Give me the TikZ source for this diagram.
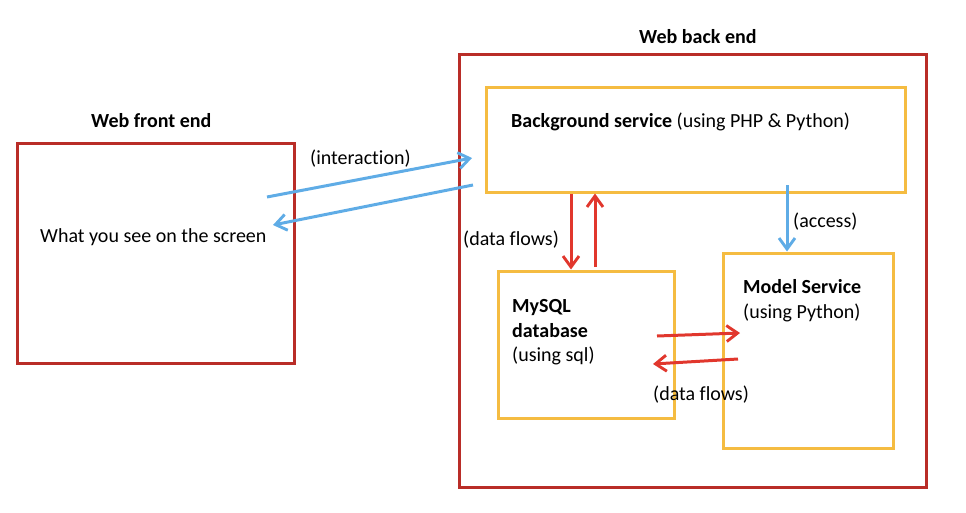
\documentclass[tikz,border=0pt]{standalone}
\usepackage{fontspec}
\setmainfont{Carlito}[Ligatures={NoCommon,NoRare}]
\usetikzlibrary{arrows.meta,calc}
\definecolor{boxred}{RGB}{185,45,40}
\definecolor{boxyel}{RGB}{245,188,65}
\definecolor{arrblue}{RGB}{95,172,230}
\definecolor{arrred}{RGB}{225,55,45}
\begin{document}
\begin{tikzpicture}[x=1pt,y=-1pt,
  every node/.style={font=\fontsize{20}{24}\selectfont, inner sep=0pt},
  outerbox/.style={draw=boxred, line width=3.0pt, rectangle},
  innerbox/.style={draw=boxyel, line width=3.0pt, rectangle},
  lbl/.style={anchor=base west, text=black},
  blab/.style={anchor=base west, text=black, font=\fontsize{20}{24}\selectfont\bfseries},
  tip/.style={-{Straight Barb[length=11pt,width=16pt,line width=2.9pt]}},
  blueline/.style={draw=arrblue, line width=3.0pt, tip},
  redline/.style={draw=arrred, line width=3.0pt, tip}]
\useasboundingbox (0,0) rectangle (966,512);
% boxes
\node[outerbox, minimum width=277pt, minimum height=220pt] (front) at (155.5,253) {};
\node[outerbox, minimum width=467pt, minimum height=433pt] (back) at (692.5,270.5) {};
\node[innerbox, minimum width=419pt, minimum height=105pt] (bg) at (695.5,139.5) {};
\node[innerbox, minimum width=176pt, minimum height=147pt] (my) at (586,344.5) {};
\node[innerbox, minimum width=170pt, minimum height=195pt] (model) at (808,350.5) {};
% texts
\node[blab] (tfront) at (91,127) {Web front end};
\node[lbl] (tscreen) at (40,242) {What you see on the screen};
\node[lbl] (tinter) at (310,164) {(interaction)};
\node[blab] (tback) at (639,43) {Web back end};
\node[lbl] (tbg) at (511,127) {\textbf{Background service} (using PHP \& Python)};
\node[lbl] (tacc) at (793,227) {(access)};
\node[lbl] (tdf1) at (463,245) {(data flows)};
\node[blab] (tmy1) at (512,312) {MySQL};
\node[blab] (tmy2) at (512,337) {database};
\node[lbl] (tmy3) at (512,361) {(using sql)};
\node[blab] (tmo1) at (743,293) {Model Service};
\node[lbl] (tmo2) at (743,318) {(using Python)};
\node[lbl] (tdf2) at (653,400) {(data flows)};
% connector end points
\coordinate (i1) at (267,197);
\coordinate (i2) at (472,158);
\coordinate (r1) at (473,185);
\coordinate (r2) at (273,225);
\coordinate (m1) at (657,336);
\coordinate (m2) at (740,333);
\coordinate (m3) at (738,359);
\coordinate (m4) at (653,364);
\coordinate (acc) at (787,185);
\coordinate (up) at (595,267);
% connectors
\draw[blueline] (i1) -- (i2);
\draw[blueline] (r1) -- (r2);
\draw[redline] (bg.south -| 571,0) -- (my.north -| 571,0);
\draw[redline] (up) -- (bg.south -| up);
\draw[blueline] (acc) -- (model.north -| acc);
\draw[redline] (m1) -- (m2);
\draw[redline] (m3) -- (m4);
\end{tikzpicture}
\end{document}
